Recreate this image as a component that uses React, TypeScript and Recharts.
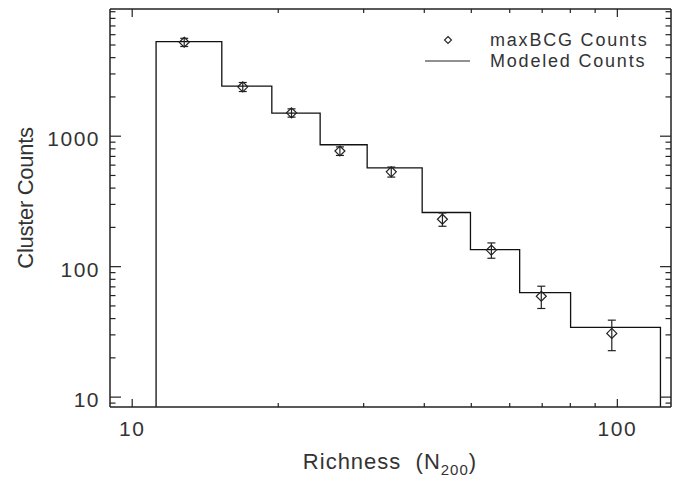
import React from 'react';
import { ComposedChart, Line, Scatter, ErrorBar, XAxis, YAxis, Legend } from 'recharts';

// bin edges of the modeled histogram (richness) and modeled counts per bin
const BIN_EDGES = [11.2, 15.3, 19.4, 24.4, 30.5, 39.6, 49.8, 62.9, 80.1, 122.7];
const MODELED = [5300, 2420, 1500, 860, 572, 260, 135, 63.3, 34.3];

// maxBCG points
const RICHNESS = [12.8, 16.9, 21.3, 26.8, 34.2, 43.6, 55.0, 69.7, 97.4];
const COUNTS = [5250, 2390, 1510, 770, 533, 231, 134, 59.3, 30.8];
const ERRORS = [380, 190, 110, 58, 47, 27, 18, 11.5, 8.1];

const X_DOMAIN = [9, 129];
const Y_DOMAIN = [8.4, 9440];
const X_TICKS = [10, 20, 30, 40, 50, 60, 70, 80, 90, 100];
const X_LABELED = [10, 100];
const Y_TICKS = [9, 10, 20, 30, 40, 50, 60, 70, 80, 90, 100, 200, 300, 400, 500, 600, 700, 800, 900,
  1000, 2000, 3000, 4000, 5000, 6000, 7000, 8000, 9000];
const Y_LABELED = [10, 100, 1000];

const FONT = '"Liberation Sans", Arial, sans-serif';
const INK = '#222';
const TEXT = '#333';

const points = RICHNESS.map((x, i) => ({ x, y: COUNTS[i], err: ERRORS[i] }));

const histo = [
  { x: BIN_EDGES[0], y: Y_DOMAIN[0] },
  ...MODELED.map((y, i) => ({ x: BIN_EDGES[i], y })),
  { x: BIN_EDGES[BIN_EDGES.length - 1], y: MODELED[MODELED.length - 1] },
  { x: BIN_EDGES[BIN_EDGES.length - 1], y: Y_DOMAIN[0] },
];

const labelStyle = { fontFamily: FONT, fontSize: 21, fill: TEXT, letterSpacing: 1.5 };

const BottomTick = (props: any) => {
  const { x, y, payload } = props;
  const major = X_LABELED.includes(payload.value);
  return (
    <g>
      <line x1={x} x2={x} y1={y} y2={y - (major ? 8 : 4)} stroke={INK} strokeWidth={1.2} />
      {major && <text x={x} y={y + 29} textAnchor="middle" {...labelStyle}>{payload.value}</text>}
    </g>
  );
};

const TopTick = (props: any) => {
  const { x, y, payload } = props;
  const major = X_LABELED.includes(payload.value);
  return <line x1={x} x2={x} y1={y} y2={y + (major ? 8 : 4)} stroke={INK} strokeWidth={1.2} />;
};

const LeftTick = (props: any) => {
  const { x, y, payload } = props;
  const major = Y_LABELED.includes(payload.value);
  return (
    <g>
      <line x1={x} x2={x + (major ? 11 : 5.5)} y1={y} y2={y} stroke={INK} strokeWidth={1.2} />
      {major && <text x={x - 10} y={y + 10} textAnchor="end" {...labelStyle}>{payload.value}</text>}
    </g>
  );
};

const RightTick = (props: any) => {
  const { x, y, payload } = props;
  const major = Y_LABELED.includes(payload.value);
  return <line x1={x} x2={x - (major ? 11 : 5.5)} y1={y} y2={y} stroke={INK} strokeWidth={1.2} />;
};

const Diamond = (props: any) => {
  const { cx, cy } = props;
  const r = 5;
  return <path d={`M${cx},${cy - r}L${cx + r},${cy}L${cx},${cy + r}L${cx - r},${cy}Z`} fill="none" stroke={INK} strokeWidth={1.2} />;
};

const LegendBox = () => (
  <svg width={240} height={50}>
    <path d="M28,0.5L31.5,4L28,7.5L24.5,4Z" fill="none" stroke={INK} strokeWidth={1.1} transform="translate(0,10)" />
    <text x={70} y={20} fontFamily={FONT} fontSize={18} fill={TEXT} letterSpacing={1.8}>maxBCG Counts</text>
    <line x1={5} x2={50} y1={35} y2={35} stroke={INK} strokeWidth={1.2} />
    <text x={70} y={41} fontFamily={FONT} fontSize={18} fill={TEXT} letterSpacing={1.8}>Modeled Counts</text>
  </svg>
);

export default function App() {
  return (
    <div style={{ position: 'absolute', left: 0, top: 0, background: '#fff' }}>
      <ComposedChart width={683} height={477} margin={{ top: 8, right: 11, bottom: 0, left: 0 }}>
        <XAxis
          dataKey="x"
          type="number"
          scale="log"
          domain={X_DOMAIN}
          allowDataOverflow
          ticks={X_TICKS}
          interval={0}
          tickSize={0}
          tickMargin={0}
          height={70}
          axisLine={{ stroke: INK, strokeWidth: 1.5 }}
          tick={<BottomTick />}
          label={{
            position: 'insideBottom',
            content: () => (
              <text x={390} y={469} textAnchor="middle" fontFamily={FONT} fontSize={22} fill={TEXT} letterSpacing={1} style={{ whiteSpace: 'pre' }}>
                {'Richness  (N'}<tspan fontSize={15} dy={6}>200</tspan><tspan dy={-6}>)</tspan>
              </text>
            ),
          }}
        />
        <XAxis
          xAxisId="top"
          orientation="top"
          dataKey="x"
          type="number"
          scale="log"
          domain={X_DOMAIN}
          allowDataOverflow
          ticks={X_TICKS}
          interval={0}
          tickSize={0}
          tickMargin={0}
          height={1}
          axisLine={{ stroke: INK, strokeWidth: 1.5 }}
          tick={<TopTick />}
        />
        <YAxis
          type="number"
          scale="log"
          domain={Y_DOMAIN}
          allowDataOverflow
          ticks={Y_TICKS}
          interval={0}
          tickSize={0}
          tickMargin={0}
          width={110}
          axisLine={{ stroke: INK, strokeWidth: 1.5 }}
          tick={<LeftTick />}
          label={{
            position: 'insideLeft',
            content: () => (
              <text x={33} y={198} transform="rotate(-90, 33, 198)" textAnchor="middle" fontFamily={FONT} fontSize={22} fill={TEXT} letterSpacing={-0.3}>
                Cluster Counts
              </text>
            ),
          }}
        />
        <YAxis
          yAxisId="right"
          orientation="right"
          type="number"
          scale="log"
          domain={Y_DOMAIN}
          allowDataOverflow
          ticks={Y_TICKS}
          interval={0}
          tickSize={0}
          tickMargin={0}
          width={1}
          axisLine={{ stroke: INK, strokeWidth: 1.5 }}
          tick={<RightTick />}
        />
        <Legend
          layout="horizontal"
          verticalAlign="middle"
          align="center"
          content={() => <LegendBox />}
          wrapperStyle={{ position: 'absolute', left: 420, top: 26, width: 240 }}
        />
        <Line
          data={histo}
          dataKey="y"
          type="stepAfter"
          stroke="#111"
          strokeWidth={1.3}
          dot={false}
          isAnimationActive={false}
          name="Modeled Counts"
        />
        <Scatter data={points} dataKey="y" shape={<Diamond />} isAnimationActive={false} name="maxBCG Counts">
          <ErrorBar dataKey="err" direction="y" width={4} stroke={INK} strokeWidth={1.2} isAnimationActive={false} />
        </Scatter>
      </ComposedChart>
    </div>
  );
}
